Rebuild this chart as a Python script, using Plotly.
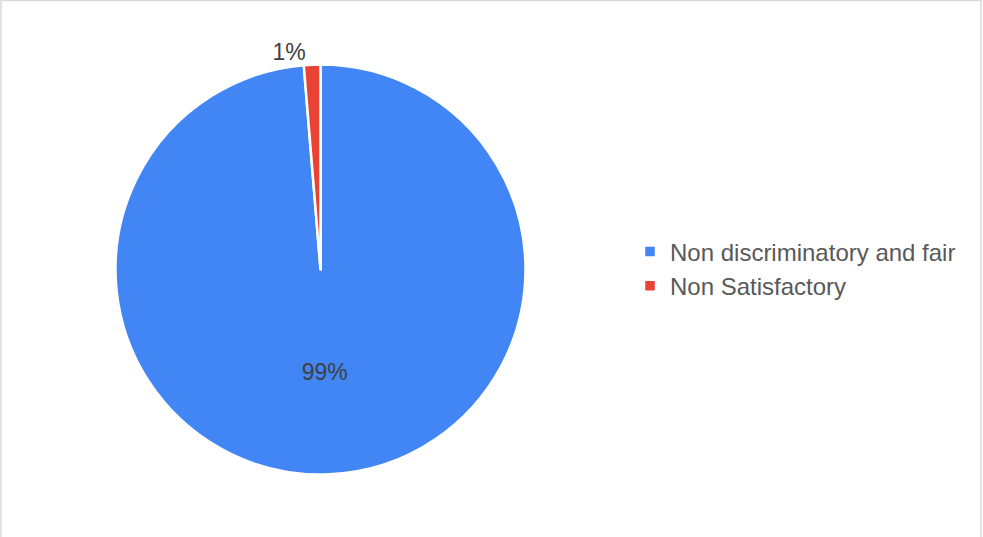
import plotly.graph_objects as go

labels = ["Non discriminatory and fair", "Non Satisfactory"]
values = [98.7, 1.3]
colors = ["#4285F4", "#EA4335"]

W, H = 983, 537
cx, cy, r = 320.5, 269.5, 205

fig = go.Figure(go.Pie(
    labels=labels,
    values=values,
    sort=False,
    direction="clockwise",
    rotation=0,
    marker=dict(colors=colors, line=dict(color="white", width=2.5)),
    textinfo="percent",
    texttemplate="%{percent:.0%}",
    textposition=["inside", "outside"],
    insidetextorientation="horizontal",
    textfont=dict(family="Liberation Sans, Arial", size=23, color="#404040"),
    outsidetextfont=dict(family="Liberation Sans, Arial", size=23, color="#404040"),
    insidetextfont=dict(family="Liberation Sans, Arial", size=23, color="#404040"),
    domain=dict(x=[(cx - r) / W, (cx + r) / W],
                y=[1 - (cy + r) / H, 1 - (cy - r) / H]),
    hoverinfo="label+percent",
))

fig.update_layout(
    width=W, height=H,
    margin=dict(l=0, r=0, t=0, b=0),
    paper_bgcolor="white",
    plot_bgcolor="white",
    showlegend=True,
    legend=dict(
        x=630 / W, y=1 - 269 / H, xanchor="left", yanchor="middle",
        font=dict(family="Liberation Sans, Arial", size=24, color="#595959"),
        bgcolor="rgba(0,0,0,0)",
    ),
    shapes=[dict(type="rect", xref="paper", yref="paper",
                 x0=0.001, x1=0.998, y0=-0.05, y1=0.999,
                 line=dict(color="#D9D9D9", width=1.5), fillcolor="rgba(0,0,0,0)")],
)

fig.write_html("out.html",
               config={"displayModeBar": False},
               post_script="document.body.style.margin='0';document.body.style.overflow='hidden';")
